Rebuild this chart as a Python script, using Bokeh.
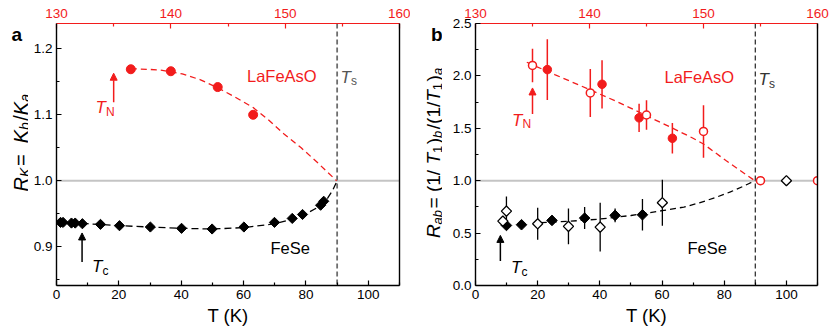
import math
import numpy as np
from bokeh.plotting import figure
from bokeh.layouts import row
from bokeh.models import (Range1d, LinearAxis, FixedTicker, PrintfTickFormatter,
                          Span, Label, Arrow, NormalHead)
from bokeh.embed import file_html
from bokeh.resources import INLINE

# ---------------- data ----------------
# panel a: Knight-shift anisotropy R_K
fese_k_T = [1.3, 2.1, 4.8, 6.0, 8.3, 14.1, 20.2, 30.1, 40.1, 49.9, 60.1, 69.9, 75.6, 78.9, 84.7, 85.7]
fese_k_R = [0.937, 0.937, 0.936, 0.936, 0.935, 0.934, 0.932, 0.930, 0.928, 0.927, 0.930, 0.937, 0.943, 0.949, 0.963, 0.969]
fese_k_fit_T = [1.0, 10, 20, 30, 40, 50, 60, 70, 76, 80, 84.7, 87, 88.5, 90]
fese_k_fit_R = [0.937, 0.935, 0.932, 0.930, 0.928, 0.927, 0.929, 0.935, 0.942, 0.950, 0.962, 0.974, 0.985, 1.0]
lfao_k_T = [136.5, 140.0, 144.1, 147.2]          # top axis (K)
lfao_k_R = [1.169, 1.166, 1.142, 1.100]
lfao_k_fit_T = [136.5, 139, 141, 142.6, 144.1, 145.5, 147.2, 148.5, 149.9, 151.4, 152.8, 154.5]
lfao_k_fit_R = [1.170, 1.168, 1.162, 1.153, 1.141, 1.128, 1.111, 1.093, 1.071, 1.050, 1.028, 1.0]

# panel b: 1/T1 anisotropy R_ab
lfao_t1_fill_T = [136.3, 141.1, 144.35, 147.27]
lfao_t1_fill_R = [2.06, 1.92, 1.60, 1.405]
lfao_t1_fill_E = [0.29, 0.23, 0.135, 0.145]
lfao_t1_open_T = [135.0, 140.07, 145.0, 150.0, 155.0, 160.0]
lfao_t1_open_R = [2.10, 1.837, 1.627, 1.47, 1.0, 1.0]
lfao_t1_open_E = [0.16, 0.23, 0.14, 0.25, 0.0, 0.0]
lfao_t1_fit_T = [134.5, 137, 140, 142.5, 145, 147.5, 149, 150, 152, 154.5]
lfao_t1_fit_R = [2.13, 2.01, 1.87, 1.75, 1.62, 1.49, 1.41, 1.35, 1.19, 1.0]

fese_t1_fill_T = [9.95, 14.8, 24.6, 35.1, 44.9, 53.7]
fese_t1_fill_R = [0.573, 0.58, 0.621, 0.643, 0.669, 0.675]
fese_t1_fill_E = [0.04, 0.03, 0.04, 0.105, 0.065, 0.15]
fese_t1_open_T = [8.8, 9.95, 20.0, 29.9, 40.1, 60.1, 100.0]
fese_t1_open_R = [0.614, 0.71, 0.589, 0.564, 0.557, 0.79, 1.0]
fese_t1_open_E = [0.0, 0.14, 0.153, 0.17, 0.233, 0.22, 0.0]
fese_t1_fit_T = [21, 30, 40, 50, 56, 60, 67, 72, 77.5, 82, 86, 88.2, 90]
fese_t1_fit_R = [0.60, 0.612, 0.634, 0.668, 0.694, 0.714, 0.748, 0.788, 0.843, 0.893, 0.945, 0.976, 1.0]

T_S = 90.0        # structural transition FeSe (bottom axis)
R_ISO = 1.0       # isotropic reference
TN_LFAO = 135.0   # top axis
TC_FESE = 8.2

bottom_ticks = [0, 20, 40, 60, 80, 100]
bottom_minor = [10, 30, 50, 70, 90, 110]
top_ticks = [130, 140, 150, 160]
top_minor = [135, 145, 155]
a_ticks = [0.9, 1.0, 1.1, 1.2]
a_minor = [0.85, 0.95, 1.05, 1.15]
b_ticks = [0.0, 0.5, 1.0, 1.5, 2.0, 2.5]
b_minor = [0.25, 0.75, 1.25, 1.75, 2.25]
X_LABEL = "T (K)"

# ---------------- style / layout (page pixels) ----------------
FONT = "Liberation Sans"
RED = "#f21c1c"
EM = {'R': 0.722, 'K': 0.667, ' ': 0.278, '=': 0.584, 'b': 0.556, 'a': 0.556, '/': 0.278,
      '(': 0.333, ')': 0.333, '1': 0.556, 'T': 0.611, 'N': 0.722, 'c': 0.5, 's': 0.5}

TOP_B = 23           # frame top
FRAME_H = 262        # frame bottom at 285
BOT_B = 48
FIG_H = TOP_B + FRAME_H + BOT_B   # 333
FRAME_BOTTOM = TOP_B + FRAME_H


def adv(text, size):
    return sum(EM.get(ch, 0.556) for ch in text) * size


def make_conv(fl, ft, fr, fb, x0, x1, y0, y1):
    def conv(px, py):
        return (x0 + (px - fl) / (fr - fl) * (x1 - x0),
                y1 - (py - ft) / (fb - ft) * (y1 - y0))
    return conv


def strip_conv(left_px, bottom_px):
    def conv(px, py):
        return (px - left_px, bottom_px - py)
    return conv


def put(p, conv, pieces, xa, ya, vertical=False):
    pos = 0.0
    for text, size, style, shift, color in pieces:
        if vertical:
            x, y = conv(xa + shift, ya - pos)
            ang = math.pi / 2
        else:
            x, y = conv(xa + pos, ya + shift)
            ang = 0.0
        p.add_layout(Label(x=x, y=y, text=text, angle=ang, text_font=FONT,
                           text_font_size=f"{size}px", text_font_style=style,
                           text_color=color, text_align="left", text_baseline="alphabetic"))
        pos += adv(text, size) + (1.5 if shift else 0.0)


def text_fig(w):
    p = figure(width=w, height=FIG_H, x_range=Range1d(0, w), y_range=Range1d(0, FRAME_H),
               title=None, output_backend="svg", toolbar_location=None,
               x_axis_type=None, y_axis_type=None,
               min_border_left=0, min_border_right=0, min_border_top=TOP_B,
               min_border_bottom=BOT_B)
    p.outline_line_color = None
    p.background_fill_color = "white"
    p.border_fill_color = "white"
    return p


def style_axis(ax, color, ticks, minor, fmt=None, width=1.4):
    ax.ticker = FixedTicker(ticks=ticks, minor_ticks=minor)
    if fmt:
        ax.formatter = PrintfTickFormatter(format=fmt)
    ax.axis_line_color = color
    ax.axis_line_width = width
    ax.major_tick_line_color = color
    ax.minor_tick_line_color = color
    ax.major_tick_line_width = 1.2
    ax.minor_tick_line_width = 1.2
    ax.major_tick_in = 5
    ax.major_tick_out = 0
    ax.minor_tick_in = 3
    ax.minor_tick_out = 0
    ax.major_label_text_color = color
    ax.major_label_text_font = FONT
    ax.major_label_text_font_size = "13.5px"
    ax.major_label_standoff = 4
    ax.axis_label = None


def base_fig(yr, bl, br, fw):
    p = figure(width=bl + fw + br, height=FIG_H, x_range=Range1d(0, 110), y_range=Range1d(*yr),
               title=None, output_backend="svg", toolbar_location=None,
               min_border_left=bl, min_border_right=br, min_border_top=TOP_B,
               min_border_bottom=BOT_B)
    p.extra_x_ranges = {"top": Range1d(130, 160)}
    p.outline_line_color = None
    p.xgrid.grid_line_color = None
    p.ygrid.grid_line_color = None
    p.background_fill_color = "white"
    p.border_fill_color = "white"
    bottom = p.below[0]
    style_axis(bottom, "black", bottom_ticks, bottom_minor)
    bottom.major_label_standoff = 4
    bottom.axis_label = X_LABEL
    bottom.axis_label_text_font = FONT
    bottom.axis_label_text_font_size = "18.5px"
    bottom.axis_label_text_font_style = "normal"
    bottom.axis_label_text_color = "black"
    bottom.axis_label_standoff = 3
    top = LinearAxis(x_range_name="top")
    p.add_layout(top, "above")
    style_axis(top, RED, top_ticks, top_minor, width=1.2)
    top.major_label_standoff = 6
    right = LinearAxis()
    p.add_layout(right, "right")
    style_axis(right, "black", [], [])
    right.major_label_text_font_size = "0px"
    right.major_label_standoff = 0
    right.major_tick_in = 0
    right.minor_tick_in = 0
    p.add_layout(Span(location=R_ISO, dimension="width", line_color="#c4c4c4",
                      line_width=2, level="underlay"))
    return p


def errbars(p, T, R, E, color, width, rn="default"):
    T = np.array(T); R = np.array(R); E = np.array(E)
    p.segment(x0=T, y0=R - E, x1=T, y1=R + E, line_color=color, line_width=width,
              x_range_name=rn)


# ---------------- panel a ----------------
ya = (0.8414, 1.2383)
pa = base_fig(ya, 28, 11, 343)          # page x 28..410, frame 56..399
style_axis(pa.left[0], "black", a_ticks, a_minor, "%.1f")
ca = make_conv(56, TOP_B, 399, FRAME_BOTTOM, 0, 110, ya[0], ya[1])

pa.add_layout(Span(location=T_S, dimension="height", line_color="#6e6e6e",
                   line_width=1.8, line_dash="5 3", level="underlay"))
pa.line(fese_k_fit_T, fese_k_fit_R, line_color="black", line_width=1.3, line_dash="7 4")
pa.line(lfao_k_fit_T, lfao_k_fit_R, line_color=RED, line_width=1.3, line_dash="6 4",
        x_range_name="top")
pa.scatter(fese_k_T, fese_k_R, marker="square", angle=math.pi / 4, size=7.2,
           fill_color="black", line_color="black")
pa.scatter(lfao_k_T, lfao_k_R, marker="circle", size=9, fill_color=RED, line_color=RED,
           x_range_name="top")

pa.add_layout(Arrow(end=NormalHead(size=7, fill_color=RED, line_color=RED, line_width=1),
                    x_start=TN_LFAO, y_start=1.119, x_end=TN_LFAO, y_end=1.163,
                    line_color=RED, line_width=1.5, x_range_name="top"))
pa.add_layout(Arrow(end=NormalHead(size=7, fill_color="black", line_color="black", line_width=1),
                    x_start=TC_FESE, y_start=0.877, x_end=TC_FESE, y_end=0.921,
                    line_color="black", line_width=1.5))

put(pa, ca, [("LaFeAsO", 16.5, "normal", 0, RED)], 246.5, 75)
put(pa, ca, [("FeSe", 16.5, "normal", 0, "black")], 270, 247.5)
put(pa, ca, [("T", 17, "italic", 0, "#555555"), ("s", 12, "normal", 4, "#555555")], 340, 76.5)
put(pa, ca, [("T", 17, "italic", 0, RED), ("N", 12, "normal", 4, RED)], 95, 107)
put(pa, ca, [("T", 17, "italic", 0, "black"), ("c", 12, "normal", 4, "black")], 91.5, 266)

# ---------------- panel b ----------------
yb = (0.0, 2.5)
pb = base_fig(yb, 33, 12, 342)          # page x 442..829, frame 475..817
style_axis(pb.left[0], "black", b_ticks, b_minor, "%.1f")
cb = make_conv(475, TOP_B, 817, FRAME_BOTTOM, 0, 110, yb[0], yb[1])

pb.add_layout(Span(location=T_S, dimension="height", line_color="#333333",
                   line_width=1.3, line_dash="5 3", level="underlay"))
pb.line(fese_t1_fit_T, fese_t1_fit_R, line_color="black", line_width=1.3, line_dash="6 4")
pb.line(lfao_t1_fit_T, lfao_t1_fit_R, line_color=RED, line_width=1.3, line_dash="6 4",
        x_range_name="top")
errbars(pb, fese_t1_fill_T, fese_t1_fill_R, fese_t1_fill_E, "black", 1.3)
errbars(pb, fese_t1_open_T, fese_t1_open_R, fese_t1_open_E, "black", 1.3)
errbars(pb, lfao_t1_fill_T, lfao_t1_fill_R, lfao_t1_fill_E, RED, 1.5, "top")
errbars(pb, lfao_t1_open_T, lfao_t1_open_R, lfao_t1_open_E, RED, 1.5, "top")
pb.scatter(fese_t1_fill_T, fese_t1_fill_R, marker="square", angle=math.pi / 4, size=7.5,
           fill_color="black", line_color="black")
pb.scatter(fese_t1_open_T, fese_t1_open_R, marker="square", angle=math.pi / 4, size=7.2,
           fill_color="white", line_color="black", line_width=1.3)
pb.scatter(lfao_t1_fill_T, lfao_t1_fill_R, marker="circle", size=8.5, fill_color=RED,
           line_color=RED, x_range_name="top")
pb.scatter(lfao_t1_open_T, lfao_t1_open_R, marker="circle", size=8, fill_color="white",
           line_color=RED, line_width=1.5, x_range_name="top")

pb.add_layout(Arrow(end=NormalHead(size=7, fill_color=RED, line_color=RED, line_width=1),
                    x_start=TN_LFAO, y_start=1.637, x_end=TN_LFAO, y_end=1.885,
                    line_color=RED, line_width=1.5, x_range_name="top"))
pb.add_layout(Arrow(end=NormalHead(size=7, fill_color="black", line_color="black", line_width=1),
                    x_start=8.0, y_start=0.233, x_end=8.0, y_end=0.478,
                    line_color="black", line_width=1.5))

put(pb, cb, [("LaFeAsO", 16.5, "normal", 0, RED)], 664, 76)
put(pb, cb, [("FeSe", 16.5, "normal", 0, "black")], 687, 247.5)
put(pb, cb, [("T", 17, "italic", 0, "#333333"), ("s", 12, "normal", 4, "#333333")], 758, 79)
put(pb, cb, [("T", 17, "italic", 0, RED), ("N", 12, "normal", 4, RED)], 511.5, 119.5)
put(pb, cb, [("T", 17, "italic", 0, "black"), ("c", 12, "normal", 4, "black")], 510.5, 267)

# ---------------- y-label strips (frames aligned with the panels) ----------------
la_fig = text_fig(28)     # page x 0..28
lb_fig = text_fig(32)     # page x 410..442
cla = strip_conv(0, FRAME_BOTTOM)
clb = strip_conv(410, FRAME_BOTTOM)

put(la_fig, cla, [("a", 19, "bold", 0, "black")], 11.0, 33.5)
put(lb_fig, clb, [("b", 19, "bold", 0, "black")], 430.5, 33.5)

ylab_a = [("R", 20, "italic", 0, "black"), ("K", 14, "italic", 4, "black"),
          (" = ", 20, "normal", 0, "black"), ("K", 20, "italic", 0, "black"),
          ("b", 14, "italic", 4, "black"), ("/", 20, "normal", 0, "black"),
          ("K", 20, "italic", 0, "black"), ("a", 14, "italic", 4, "black")]
la = sum(adv(t, s) for t, s, *_ in ylab_a)
put(la_fig, cla, ylab_a, 20.5, 141.7 + la / 2 + 2, vertical=True)

ylab_b = [("R", 19, "italic", 0, "black"), ("ab", 13, "italic", 4, "black"),
          (" = (1/", 19, "normal", 0, "black"), ("T", 19, "italic", 0, "black"),
          ("1", 13, "normal", 4, "black"), (")", 19, "normal", 0, "black"),
          ("b", 13, "italic", 4, "black"), ("/(1/", 19, "normal", 0, "black"),
          ("T", 19, "italic", 0, "black"), ("1", 13, "normal", 4, "black"),
          (")", 19, "normal", 0, "black"), ("a", 13, "italic", 4, "black")]
lb = sum(adv(t, s) for t, s, *_ in ylab_b)
put(lb_fig, clb, ylab_b, 433, 151.5 + lb / 2 + 4, vertical=True)

layout = row(la_fig, pa, lb_fig, pb)
open("out.html", "w").write(file_html(layout, INLINE))
